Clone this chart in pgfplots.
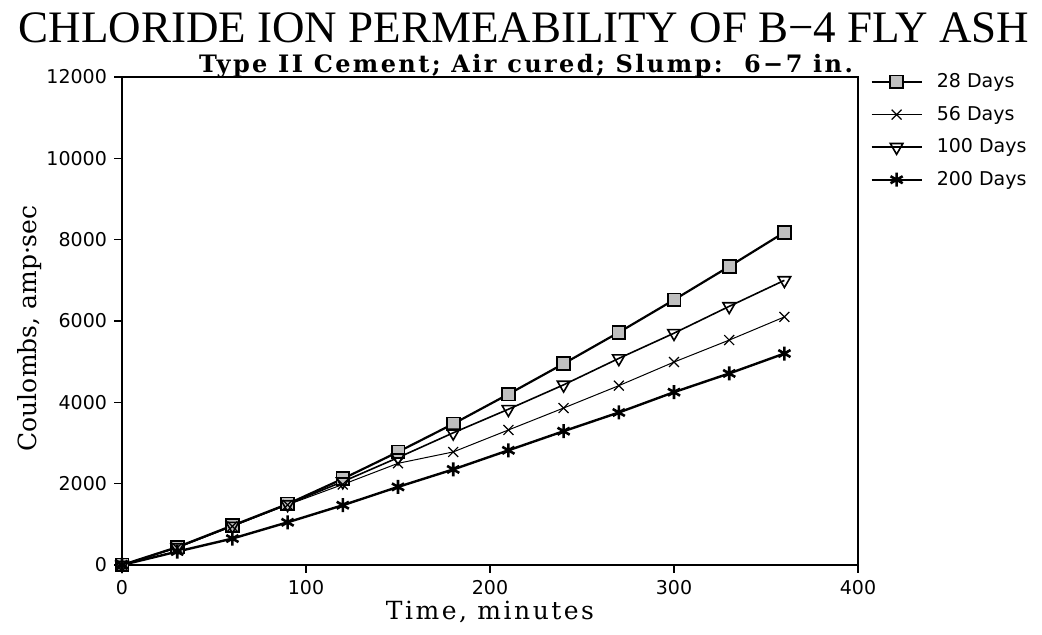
\documentclass[border=0pt]{standalone}
\usepackage{fontspec}
\setmainfont{DejaVu Serif}
\newfontfamily\titlefont{Liberation Serif}
\newfontfamily\labfont[LetterSpace=10]{DejaVu Serif}
\newfontfamily\sansfont{DejaVu Sans}
\usepackage{pgfplots}
\usepackage{pgfplotstable}
\pgfplotsset{compat=1.18}
\pgfplotstableread{
t d28 d56 d100 d200
0 0 0 0 0
30 440 420 430 330
60 970 950 960 650
90 1500 1480 1490 1050
120 2120 1980 2050 1470
150 2780 2500 2640 1920
180 3470 2780 3250 2350
210 4200 3320 3830 2820
240 4950 3860 4430 3290
270 5720 4410 5080 3750
300 6520 4990 5700 4250
330 7340 5530 6360 4710
360 8180 6100 7000 5200
}\datatable
\begin{document}
\begin{tikzpicture}[x=1pt,y=1pt]
\path[use as bounding box] (0,0) rectangle (521,317.5);
\node[font=\titlefont\fontsize{22.5}{25}\selectfont] at (262,303.5) {CHLORIDE ION PERMEABILITY OF B−4 FLY ASH};
\node[font=\labfont\bfseries\fontsize{12}{14}\selectfont] at (263,284.3) {Type II Cement; Air cured; Slump:~~6−7 in.};
\begin{axis}[
  at={(61pt,35pt)}, anchor=south west, scale only axis,
  width=368pt, height=244pt,
  xmin=0, xmax=400, ymin=0, ymax=12000,
  xtick={0,100,200,300,400}, ytick={0,2000,4000,6000,8000,10000,12000},
  tick align=outside, xtick pos=bottom, ytick pos=left,
  major tick length=4pt,
  tick style={black, line width=0.8pt},
  axis line style={line width=0.9pt},
  scaled ticks=false,
  /pgf/number format/assume math mode=true,
  /pgf/number format/1000 sep={},
  tick label style={font=\sansfont\fontsize{9.5}{11}\selectfont},
  xlabel={Time, minutes}, ylabel={Coulombs, amp·sec},
  xlabel style={font=\labfont\fontsize{12.5}{15}\selectfont, at={(axis description cs:0.5,0)}, anchor=center, yshift=-23.5pt},
  ylabel style={font=\fontsize{12.5}{15}\selectfont, at={(axis description cs:0,0.485)}, anchor=center, yshift=46pt},
  legend style={at={(rel axis cs:1,1)}, anchor=north west, xshift=6pt, yshift=4pt,
    draw=none, fill=none, inner xsep=0pt, inner ysep=0pt, row sep=3.75pt,
    font=\sansfont\fontsize{9.5}{11}\selectfont,
    /tikz/every odd column/.append style={column sep=5pt}},
  legend cell align=left,
  legend image code/.code={\draw[mark repeat=2,mark phase=2] plot coordinates {(0pt,0pt)(12.5pt,0pt)(25pt,0pt)};},
]
\addplot[black, line width=1.1pt, mark=square*, mark size=3.2pt, mark options={fill=black!25, line width=0.9pt}] table[x=t,y=d28] {\datatable};
\addplot[black, line width=0.5pt, mark=x, mark size=3.5pt, mark options={line width=0.6pt}] table[x=t,y=d56] {\datatable};
\addplot[black, line width=0.8pt, mark=triangle, mark size=3.6pt, mark options={rotate=180, fill=white, line width=0.8pt}] table[x=t,y=d100] {\datatable};
\addplot[black, line width=1.2pt, mark=asterisk, mark size=3.5pt, mark options={line width=1.3pt}] table[x=t,y=d200] {\datatable};
\legend{28 Days, 56 Days, 100 Days, 200 Days}
\end{axis}
\end{tikzpicture}
\end{document}
